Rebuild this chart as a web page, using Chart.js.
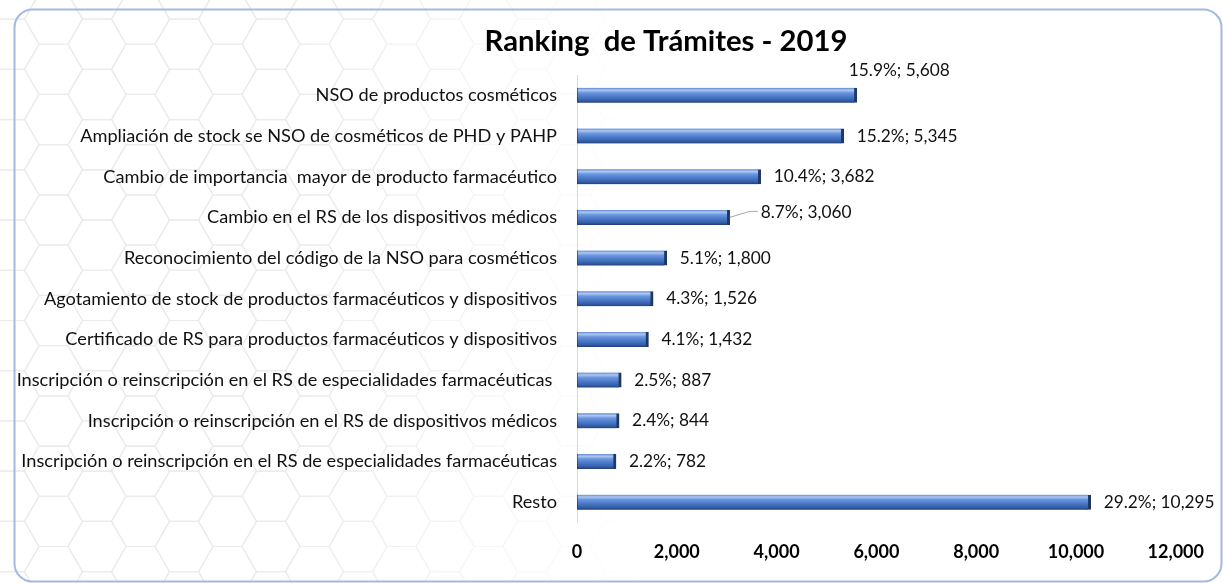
<!DOCTYPE html>
<html><head><meta charset="utf-8">
<script src="https://cdn.jsdelivr.net/npm/chart.js@4.4.1/dist/chart.umd.min.js"></script>
<style>html,body{margin:0;padding:0;background:#fff;overflow:hidden}#wrap{position:relative;width:1223px;height:583px}</style>
</head><body><div id="wrap"><canvas id="c" width="1223" height="583"></canvas></div>
<script>
const categories = [
  'NSO de productos cosméticos',
  'Ampliación de stock se NSO de cosméticos de PHD y PAHP',
  'Cambio de importancia  mayor de producto farmacéutico',
  'Cambio en el RS de los dispositivos médicos',
  'Reconocimiento del código de la NSO para cosméticos',
  'Agotamiento de stock de productos farmacéuticos y dispositivos',
  'Certificado de RS para productos farmacéuticos y dispositivos',
  'Inscripción o reinscripción en el RS de especialidades farmacéuticas ',
  'Inscripción o reinscripción en el RS de dispositivos médicos',
  'Inscripción o reinscripción en el RS de especialidades farmacéuticas',
  'Resto'
];
const values = [5608, 5345, 3682, 3060, 1800, 1526, 1432, 887, 844, 782, 10295];
const percents = [15.9, 15.2, 10.4, 8.7, 5.1, 4.3, 4.1, 2.5, 2.4, 2.2, 29.2];
const xTicks = [0, 2000, 4000, 6000, 8000, 10000, 12000];
const titleText = 'Ranking  de Trámites - 2019';

const FAMILY = 'Lato, "Open Sans", sans-serif';
const mctx = document.createElement('canvas').getContext('2d');
function fit(text, weight, target) {
  mctx.font = weight + ' 100px ' + FAMILY;
  return 100 * target / mctx.measureText(text).width;
}
const catSize = fit(categories[9], 'normal', 536);
const tickSize = fit('2,000', 'bold', 46);
const lblSize = fit('15.2%; 5,345', 'normal', 101);
const titleSize = fit(titleText, 'bold', 363);

const fmt = v => v.toLocaleString('en-US');

const bgPlugin = {
  id: 'bg',
  beforeDraw(chart) {
    const ctx = chart.ctx, W = chart.width, H = chart.height;
    ctx.save();
    ctx.fillStyle = '#fff'; ctx.fillRect(0, 0, W, H);
    const s = 29, hx = 1.5 * s, vy = Math.sqrt(3) * s;
    ctx.strokeStyle = '#ebebeb'; ctx.lineWidth = 1.2;
    for (let c = -1; c * hx < 700; c++) {
      for (let r = -1; r * vy < H + vy; r++) {
        const cx = c * hx + 10, cy = r * vy + (c % 2 ? vy / 2 : 0) - 6;
        ctx.beginPath();
        for (let k = 0; k < 6; k++) {
          const a = Math.PI / 3 * k;
          const px = cx + s * Math.cos(a), py = cy + s * Math.sin(a);
          k ? ctx.lineTo(px, py) : ctx.moveTo(px, py);
        }
        ctx.closePath(); ctx.stroke();
      }
    }
    const g = ctx.createLinearGradient(280, 0, 640, 0);
    g.addColorStop(0, 'rgba(255,255,255,0)');
    g.addColorStop(1, 'rgba(255,255,255,1)');
    ctx.fillStyle = g; ctx.fillRect(0, 0, W, H);
    ctx.beginPath();
    ctx.roundRect(14.5, 9.5, 1207, 572, 18);
    ctx.strokeStyle = '#a3b9e2'; ctx.lineWidth = 2; ctx.stroke();
    ctx.font = 'bold ' + titleSize + 'px ' + FAMILY;
    ctx.fillStyle = '#000'; ctx.textAlign = 'center'; ctx.textBaseline = 'alphabetic';
    ctx.fillText(titleText, 666, 51);
    ctx.restore();
  }
};

const labelPlugin = {
  id: 'lbls',
  afterDatasetsDraw(chart) {
    const ctx = chart.ctx;
    const meta = chart.getDatasetMeta(0);
    ctx.save();
    ctx.font = lblSize + 'px ' + FAMILY;
    ctx.fillStyle = '#111'; ctx.textAlign = 'left'; ctx.textBaseline = 'middle';
    meta.data.forEach((bar, i) => {
      const text = percents[i].toFixed(1) + '%; ' + fmt(values[i]);
      let x = bar.x + 13, y = bar.y;
      if (i === 0) { x = bar.x - 8; y = bar.y - 25; }
      if (i === 3) {
        ctx.beginPath();
        ctx.moveTo(bar.x, bar.y);
        ctx.lineTo(bar.x + 20, bar.y - 6);
        ctx.lineTo(bar.x + 28, bar.y - 6);
        ctx.strokeStyle = '#a6a6a6'; ctx.lineWidth = 1; ctx.stroke();
        x = bar.x + 31; y = bar.y - 5;
      }
      ctx.fillText(text, x, y);
    });
    ctx.restore();
  }
};

function barFill(c) {
  const chart = c.chart;
  if (!chart.chartArea || c.type !== 'data') return '#4472c4';
  const y = chart.scales.y.getPixelForValue(c.dataIndex);
  const h = 15;
  const g = chart.ctx.createLinearGradient(0, y - h / 2, 0, y + h / 2);
  g.addColorStop(0, '#5f88d0');
  g.addColorStop(0.15, '#adc8f2');
  g.addColorStop(0.33, '#6a95de');
  g.addColorStop(0.6, '#4a78c8');
  g.addColorStop(0.85, '#345ea6');
  g.addColorStop(1, '#223f78');
  return g;
}

new Chart(document.getElementById('c'), {
  type: 'bar',
  data: {
    labels: categories,
    datasets: [{
      data: values,
      backgroundColor: barFill,
      borderColor: '#1f3864',
      borderWidth: { right: 3, left: 1, top: 0, bottom: 0 },
      borderSkipped: false,
      barThickness: 15
    }]
  },
  options: {
    indexAxis: 'y',
    responsive: false,
    animation: false,
    layout: { padding: { top: 75, right: 46, left: 0, bottom: 0 } },
    plugins: { legend: { display: false }, title: { display: false }, tooltip: { enabled: false } },
    scales: {
      y: {
        grid: { display: false, drawTicks: false },
        border: { display: true, color: '#d9d9d9', width: 1 },
        ticks: { padding: 20, color: '#111', font: { family: FAMILY, size: catSize } },
        afterFit(s) { s.width = 577; }
      },
      x: {
        min: 0, max: 12000,
        afterBuildTicks(s) { s.ticks = xTicks.map(v => ({ value: v })); },
        grid: { display: false, drawTicks: false },
        border: { display: false },
        ticks: { padding: 19, color: '#000', font: { family: FAMILY, size: tickSize, weight: 'bold' }, callback: v => fmt(v), maxRotation: 0, autoSkip: false },
        afterFit(s) { s.height = 60.5; }
      }
    }
  },
  plugins: [bgPlugin, labelPlugin]
});
</script></body></html>
